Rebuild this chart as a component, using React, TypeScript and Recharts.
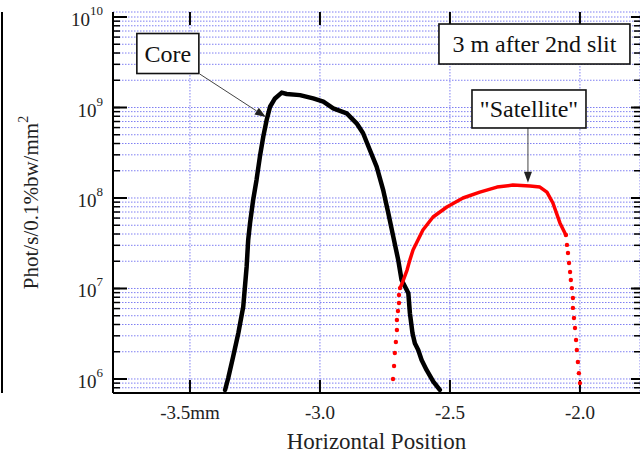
import React from "react";
import {
	ComposedChart,
	Line,
	XAxis,
	YAxis,
	CartesianGrid,
	ReferenceDot,
	ReferenceLine,
	Label,
} from "recharts";

const serif = "Liberation Serif, Times New Roman, DejaVu Serif, serif";

// axis ticks
const xTicks = [-3.5, -3.0, -2.5, -2.0];
const xTickLabels = ["-3.5mm", "-3.0", "-2.5", "-2.0"];
const decadeTicks = [1e6, 1e7, 1e8, 1e9, 1e10];
const allLogTicks = [
	8e5, 9e5,
	1e6, 2e6, 3e6, 4e6, 5e6, 6e6, 7e6, 8e6, 9e6,
	1e7, 2e7, 3e7, 4e7, 5e7, 6e7, 7e7, 8e7, 9e7,
	1e8, 2e8, 3e8, 4e8, 5e8, 6e8, 7e8, 8e8, 9e8,
	1e9, 2e9, 3e9, 4e9, 5e9, 6e9, 7e9, 8e9, 9e9,
	1e10,
];

// "Core" profile (black)
const coreX = [
	-3.365, -3.353, -3.334, -3.314, -3.295, -3.282, -3.276, -3.269, -3.257, -3.244,
	-3.231, -3.218, -3.205, -3.192, -3.173, -3.147, -3.128, -3.077, -3.026, -2.987,
	-2.949, -2.897, -2.859, -2.834, -2.808, -2.782, -2.757, -2.737, -2.718, -2.699,
	-2.686, -2.673, -2.66, -2.654, -2.644, -2.635, -2.622, -2.609, -2.59, -2.564, -2.539,
];
const coreY = [
	7.56e5, 1.02e6, 1.76e6, 3.2e6, 6.3e6, 1.74e7, 3.44e7, 5.25e7, 9.5e7, 1.58e8,
	2.86e8, 4.76e8, 7.28e8, 1.02e9, 1.26e9, 1.46e9, 1.41e9, 1.37e9, 1.26e9, 1.16e9,
	9.8e8, 8.63e8, 6.69e8, 5.19e8, 3.39e8, 2.22e8, 1.23e8, 6.78e7, 3.74e7, 2.07e7,
	1.24e7, 1.05e7, 8.85e6, 5.32e6, 3.2e6, 2.48e6, 2.09e6, 1.62e6, 1.26e6, 9.33e5, 7.56e5,
];

// "Satellite" profile (red): rising dots, solid top, falling dots
const satLeftX = [-2.719, -2.715, -2.712, -2.708, -2.704, -2.704, -2.7, -2.696, -2.696, -2.692];
const satLeftY = [1.0e6, 1.39e6, 1.94e6, 2.56e6, 3.48e6, 4.49e6, 5.64e6, 6.9e6, 8.47e6, 1.01e7];

const satMidX = [
	-2.692, -2.685, -2.665, -2.654, -2.642, -2.623, -2.604, -2.565, -2.512, -2.45,
	-2.385, -2.319, -2.258, -2.192, -2.154, -2.127, -2.104, -2.077, -2.054,
];
const satMidY = [
	1.01e7, 1.12e7, 1.6e7, 2.07e7, 2.66e7, 3.44e7, 4.43e7, 6.17e7, 7.96e7, 1.0e8,
	1.16e8, 1.32e8, 1.39e8, 1.36e8, 1.32e8, 1.16e8, 8.8e7, 5.3e7, 3.9e7,
];

const satRightX = [
	-2.054, -2.05, -2.046, -2.042, -2.038, -2.035, -2.031, -2.027, -2.027, -2.023,
	-2.019, -2.015, -2.012, -2.008, -2.004, -2.0,
];
const satRightY = [
	3.9e7, 3.03e7, 2.47e7, 1.91e7, 1.52e7, 1.24e7, 1.01e7, 7.85e6, 6.1e6, 4.72e6,
	3.66e6, 2.7e6, 2.09e6, 1.54e6, 1.16e6, 9.0e5,
];

const toPoints = (xs: number[], ys: number[]) => xs.map((x, i) => ({ x, y: ys[i] }));
const coreData = toPoints(coreX, coreY);
const satLeft = toPoints(satLeftX, satLeftY);
const satMid = toPoints(satMidX, satMidY);
const satRight = toPoints(satRightX, satRightY);

const NoLabel = () => <g />;

const BottomLabel = (props: any) => {
	const { x, y, payload } = props;
	const i = xTicks.indexOf(payload.value);
	return (
		<text x={x} y={y + 14} textAnchor="middle" fontFamily={serif} fontSize={19} fill="#222">
			{i >= 0 ? xTickLabels[i] : payload.value}
		</text>
	);
};

const PowerLabel = (props: any) => {
	const { x, y, payload } = props;
	const exp = Math.round(Math.log10(payload.value));
	return (
		<text x={x} y={y + 9} textAnchor="end" fontFamily={serif} fontSize={19} fill="#222">
			10
			<tspan dy={-11} fontSize={13}>
				{exp}
			</tspan>
		</text>
	);
};

// inward tick marks on both ends of the frame
const hTicks = (leftLen: number, rightLen: number, w: number) => (props: any) => {
	const { x1, y1, x2 } = props;
	const l = Math.min(x1, x2);
	const r = Math.max(x1, x2);
	return (
		<g>
			<line x1={l} y1={y1} x2={l + leftLen} y2={y1} stroke="#000" strokeWidth={w} />
			<line x1={r} y1={y1} x2={r - rightLen} y2={y1} stroke="#000" strokeWidth={w} />
		</g>
	);
};

const vTicks = (len: number) => (props: any) => {
	const { x1, y1, y2 } = props;
	const t = Math.min(y1, y2);
	const b = Math.max(y1, y2);
	return (
		<g>
			<line x1={x1} y1={t} x2={x1} y2={t + len} stroke="#000" strokeWidth={2} />
			<line x1={x1} y1={b} x2={x1} y2={b - len} stroke="#000" strokeWidth={2} />
		</g>
	);
};

const boxShape = (label: string, w: number, h: number) => (props: any) => {
	const { cx, cy } = props;
	return (
		<g>
			<rect
				x={cx - w / 2}
				y={cy - h / 2}
				width={w}
				height={h}
				fill="#fff"
				stroke="#111"
				strokeWidth={1.6}
			/>
			<text x={cx} y={cy + 8} textAnchor="middle" fontFamily={serif} fontSize={24} fill="#111">
				{label}
			</text>
		</g>
	);
};

const Arrow = (props: any) => {
	const { x1, y1, x2, y2 } = props;
	const ang = Math.atan2(y2 - y1, x2 - x1);
	const len = 11;
	const half = 4;
	const bx = x2 - len * Math.cos(ang);
	const by = y2 - len * Math.sin(ang);
	const px = -Math.sin(ang) * half;
	const py = Math.cos(ang) * half;
	return (
		<g>
			<line x1={x1} y1={y1} x2={bx} y2={by} stroke="#444" strokeWidth={1} />
			<polygon points={`${x2},${y2} ${bx + px},${by + py} ${bx - px},${by - py}`} fill="#222" />
		</g>
	);
};

const YTitle = (props: any) => {
	const vb = props.viewBox || { x: 0, y: 12, height: 381 };
	const cx = vb.x + 38;
	const cy = vb.y + vb.height / 2;
	return (
		<text
			transform={`translate(${cx}, ${cy}) rotate(-90)`}
			textAnchor="middle"
			fontFamily={serif}
			fontSize={21}
			fill="#222"
		>
			Phot/s/0.1%bw/mm
			<tspan dy={-10} fontSize={14}>
				2
			</tspan>
		</text>
	);
};

const XTitle = (props: any) => {
	const vb = props.viewBox || { x: 113, y: 393, width: 527 };
	return (
		<text
			x={vb.x + vb.width / 2}
			y={vb.y + 56}
			textAnchor="middle"
			fontFamily={serif}
			fontSize={23}
			fill="#222"
		>
			Horizontal Position
		</text>
	);
};

const axisLine = { stroke: "#000", strokeWidth: 2 };
const yDomain = [7.0e5, 1.136e10];
const xDomain = [-3.796, -1.769];

export default function App() {
	return (
		<div style={{ position: "absolute", left: 0, top: 0, width: 640, height: 459, background: "#fff" }}>
			{/* edge of the neighbouring panel */}
			<div style={{ position: "absolute", left: 1, top: 12, width: 2, height: 381, background: "#000" }} />
			<ComposedChart width={640} height={459} margin={{ top: 12, right: 0, bottom: 0, left: 0 }}>
				<CartesianGrid
					xAxisId="bottom"
					yAxisId="all"
					stroke="#7f7ff2"
					strokeDasharray="1.5 1.5"
				/>
				<XAxis
					xAxisId="bottom"
					type="number"
					dataKey="x"
					domain={xDomain}
					ticks={xTicks}
					interval={0}
					allowDataOverflow
					height={66}
					axisLine={axisLine}
					tickLine={false}
					tickSize={0}
					tickMargin={12}
					tick={<BottomLabel />}
				>
					<Label content={XTitle} />
				</XAxis>
				<XAxis
					xAxisId="top"
					orientation="top"
					type="number"
					dataKey="x"
					domain={xDomain}
					ticks={xTicks}
					interval={0}
					allowDataOverflow
					height={0}
					axisLine={axisLine}
					tickLine={false}
					tick={<NoLabel />}
				/>
				<YAxis
					yAxisId="major"
					scale="log"
					domain={yDomain}
					ticks={decadeTicks}
					interval={0}
					allowDataOverflow
					width={113}
					axisLine={axisLine}
					tickLine={false}
					tickSize={0}
					tickMargin={10}
					tick={<PowerLabel />}
				>
					<Label content={YTitle} />
				</YAxis>
				<YAxis
					yAxisId="all"
					scale="log"
					domain={yDomain}
					ticks={allLogTicks}
					interval={0}
					allowDataOverflow
					width={0}
					axisLine={false}
					tickLine={false}
					tick={<NoLabel />}
				/>
				<YAxis
					yAxisId="right"
					orientation="right"
					scale="log"
					domain={yDomain}
					ticks={decadeTicks}
					interval={0}
					allowDataOverflow
					width={0}
					axisLine={axisLine}
					tickLine={false}
					tick={<NoLabel />}
				/>

				{allLogTicks.map((v) => (
					<ReferenceLine
						key={`m${v}`}
						xAxisId="bottom"
						yAxisId="major"
						y={v}
						shape={hTicks(7, 6, 1.5)}
					/>
				))}
				{decadeTicks.map((v) => (
					<ReferenceLine
						key={`d${v}`}
						xAxisId="bottom"
						yAxisId="major"
						y={v}
						shape={hTicks(14, 9, 2)}
					/>
				))}
				{xTicks.map((v) => (
					<ReferenceLine
						key={`x${v}`}
						xAxisId="bottom"
						yAxisId="major"
						x={v}
						shape={vTicks(13)}
					/>
				))}

				<Line
					xAxisId="bottom"
					yAxisId="major"
					data={coreData}
					dataKey="y"
					type="linear"
					stroke="#000"
					strokeWidth={4.5}
					strokeLinejoin="round"
					strokeLinecap="round"
					dot={false}
					isAnimationActive={false}
				/>
				<Line
					xAxisId="bottom"
					yAxisId="major"
					data={satMid}
					dataKey="y"
					type="linear"
					stroke="#ff0000"
					strokeWidth={3.5}
					strokeLinejoin="round"
					strokeLinecap="round"
					dot={false}
					isAnimationActive={false}
				/>
				<Line
					xAxisId="bottom"
					yAxisId="major"
					data={satLeft}
					dataKey="y"
					stroke="none"
					dot={{ r: 2.2, fill: "#ff0000", stroke: "none" }}
					isAnimationActive={false}
				/>
				<Line
					xAxisId="bottom"
					yAxisId="major"
					data={satRight}
					dataKey="y"
					stroke="none"
					dot={{ r: 2.2, fill: "#ff0000", stroke: "none" }}
					isAnimationActive={false}
				/>

				<ReferenceLine
					xAxisId="bottom"
					yAxisId="major"
					segment={[
						{ x: -3.462, y: 2.34e9 },
						{ x: -3.208, y: 7.85e8 },
					]}
					shape={Arrow}
				/>
				<ReferenceLine
					xAxisId="bottom"
					yAxisId="major"
					segment={[
						{ x: -2.2, y: 5.94e8 },
						{ x: -2.2, y: 1.47e8 },
					]}
					shape={Arrow}
				/>
				<ReferenceDot
					xAxisId="bottom"
					yAxisId="major"
					x={-3.585}
					y={3.95e9}
					ifOverflow="visible"
					shape={boxShape("Core", 62, 40)}
				/>
				<ReferenceDot
					xAxisId="bottom"
					yAxisId="major"
					x={-2.175}
					y={5.03e9}
					ifOverflow="visible"
					shape={boxShape("3 m after 2nd slit", 191, 40)}
				/>
				<ReferenceDot
					xAxisId="bottom"
					yAxisId="major"
					x={-2.196}
					y={9.63e8}
					ifOverflow="visible"
					shape={boxShape('"Satellite"', 114, 38)}
				/>
			</ComposedChart>
		</div>
	);
}
